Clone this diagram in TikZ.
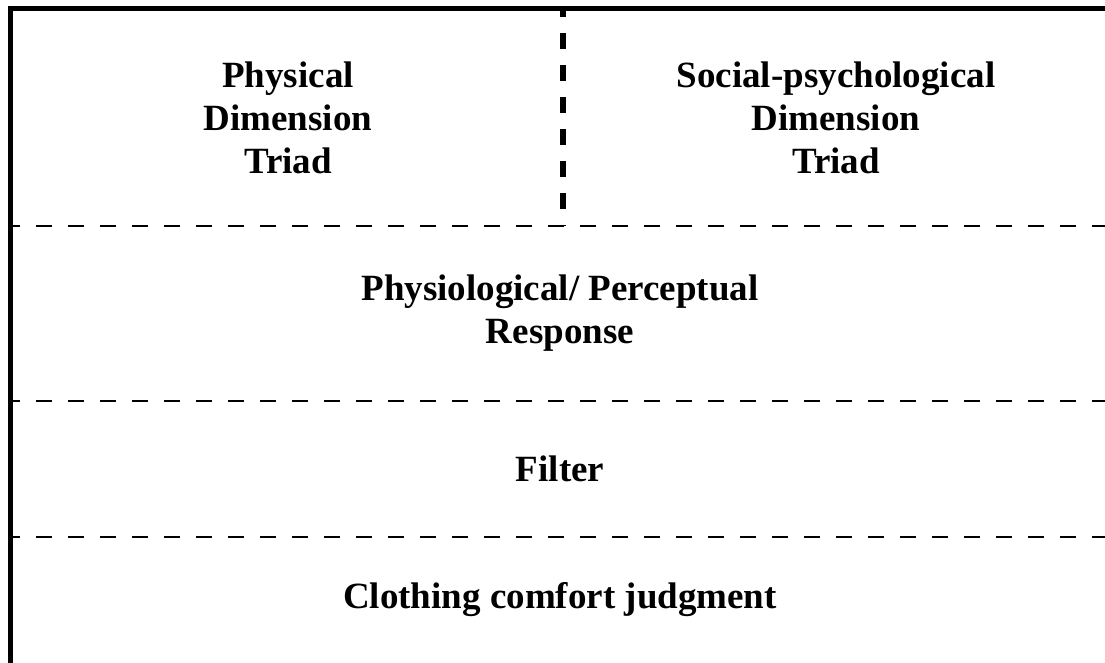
\documentclass[tikz,border=0pt]{standalone}
\usepackage{fontspec}
\setmainfont{Liberation Serif}
\begin{document}
\begin{tikzpicture}[x=1pt,y=-1pt,
  frame/.style={line width=5pt, line cap=butt},
  rowsep/.style={line width=2pt, dash pattern=on 16pt off 16pt, dash phase=9pt},
  colsep/.style={line width=5.5pt, dash pattern=on 16pt off 16pt, dash phase=5pt},
  label/.style={align=center, font=\fontsize{37}{43}\selectfont\bfseries, inner sep=0pt}]
  \useasboundingbox (0,0) rectangle (1105,663);
  % column divider in the top row
  \draw[colsep] (563,6) -- (563,226);
  % outer frame: left and top edges
  \draw[frame] (10.5,663) -- (10.5,8.5) -- (1105,8.5);
  % row dividers
  \draw[rowsep] (13,226) -- (1105,226);
  \draw[rowsep] (13,401) -- (1105,401);
  \draw[rowsep] (13,537) -- (1105,537);
  % labels
  \node[label] (phys) at (288,118) {Physical\\Dimension\\Triad};
  \node[label] (soc) at (836,118) {Social-psychological\\Dimension\\Triad};
  \node[label] (resp) at (560,313) {Physiological/ Perceptual\\Response};
  \node[label] (filt) at (560,469) {Filter};
  \node[label] (judg) at (560,600) {Clothing comfort judgment};
\end{tikzpicture}
\end{document}
